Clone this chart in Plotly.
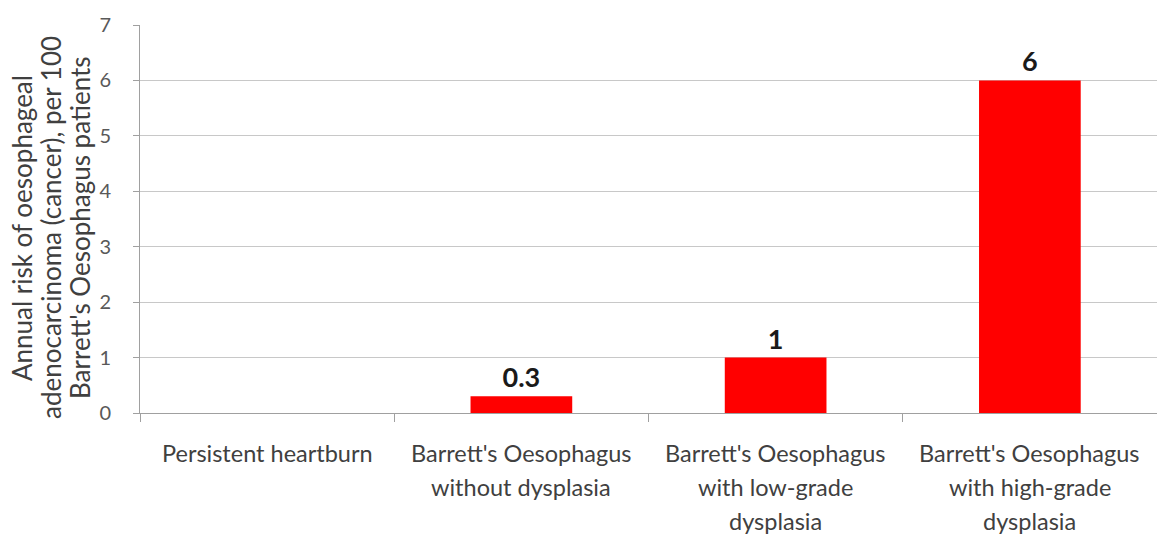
import plotly.graph_objects as go

categories = ["Persistent heartburn",
              "Barrett's Oesophagus without dysplasia",
              "Barrett's Oesophagus with low-grade dysplasia",
              "Barrett's Oesophagus with high-grade dysplasia"]
label_lines = [["Persistent heartburn"],
               ["Barrett's Oesophagus", "without dysplasia"],
               ["Barrett's Oesophagus", "with low-grade", "dysplasia"],
               ["Barrett's Oesophagus", "with high-grade", "dysplasia"]]
values = [0, 0.3, 1, 6]
value_labels = ["", "0.3", "1", "6"]
y_ticks = [0, 1, 2, 3, 4, 5, 6, 7]
y_title_lines = ["Annual risk of oesophageal",
                 "adenocarcinoma (cancer), per 100",
                 "Barrett's Oesophagus patients"]

FONT = "Lato"
TXT = "#404040"

fig = go.Figure()
fig.add_trace(go.Bar(
    x=categories, y=values,
    marker=dict(color="#ff0000", line=dict(width=0)),
    text=value_labels, textposition="outside", cliponaxis=False,
    textfont=dict(family=FONT, size=27, color="#1a1a1a", weight="bold"),
    width=0.4,
))

annotations = []
for cat, lines in zip(categories, label_lines):
    for i, ln in enumerate(lines):
        annotations.append(dict(
            x=cat, xref="x", y=0, yref="paper",
            text=ln, showarrow=False, xanchor="center", yanchor="middle",
            yshift=-40 - 34 * i,
            font=dict(family=FONT, size=23.5, color=TXT),
        ))
for i, ln in enumerate(y_title_lines):
    annotations.append(dict(
        x=0, xref="paper", y=0.5, yref="paper",
        text=ln, showarrow=False, textangle=-90,
        xanchor="center", yanchor="middle",
        xshift=-118 + 29 * i, yshift=-9,
        font=dict(family=FONT, size=26, color=TXT),
    ))

fig.update_layout(
    width=1157, height=552,
    margin=dict(l=140, r=0, t=25, b=139),
    paper_bgcolor="white", plot_bgcolor="white",
    showlegend=False,
    bargap=0.6,
    annotations=annotations,
    xaxis=dict(
        showticklabels=False, automargin=False,
        tickson="boundaries", ticks="outside", ticklen=8, tickcolor="#a0a0a0",
        showline=True, linecolor="#a0a0a0", linewidth=1,
        showgrid=False,
    ),
    yaxis=dict(
        range=[0, 7], tickvals=y_ticks, automargin=False,
        ticks="outside", ticklen=6, tickcolor="#a0a0a0",
        ticklabelstandoff=18,
        showline=True, linecolor="#a0a0a0", linewidth=1,
        showgrid=True, gridcolor="#c8c8c8", gridwidth=1,
        zeroline=False,
        tickfont=dict(family=FONT, size=20, color="#595959"),
    ),
)

fig.write_html("out.html", config={"displayModeBar": False},
               post_script="document.body.style.margin='0';")
